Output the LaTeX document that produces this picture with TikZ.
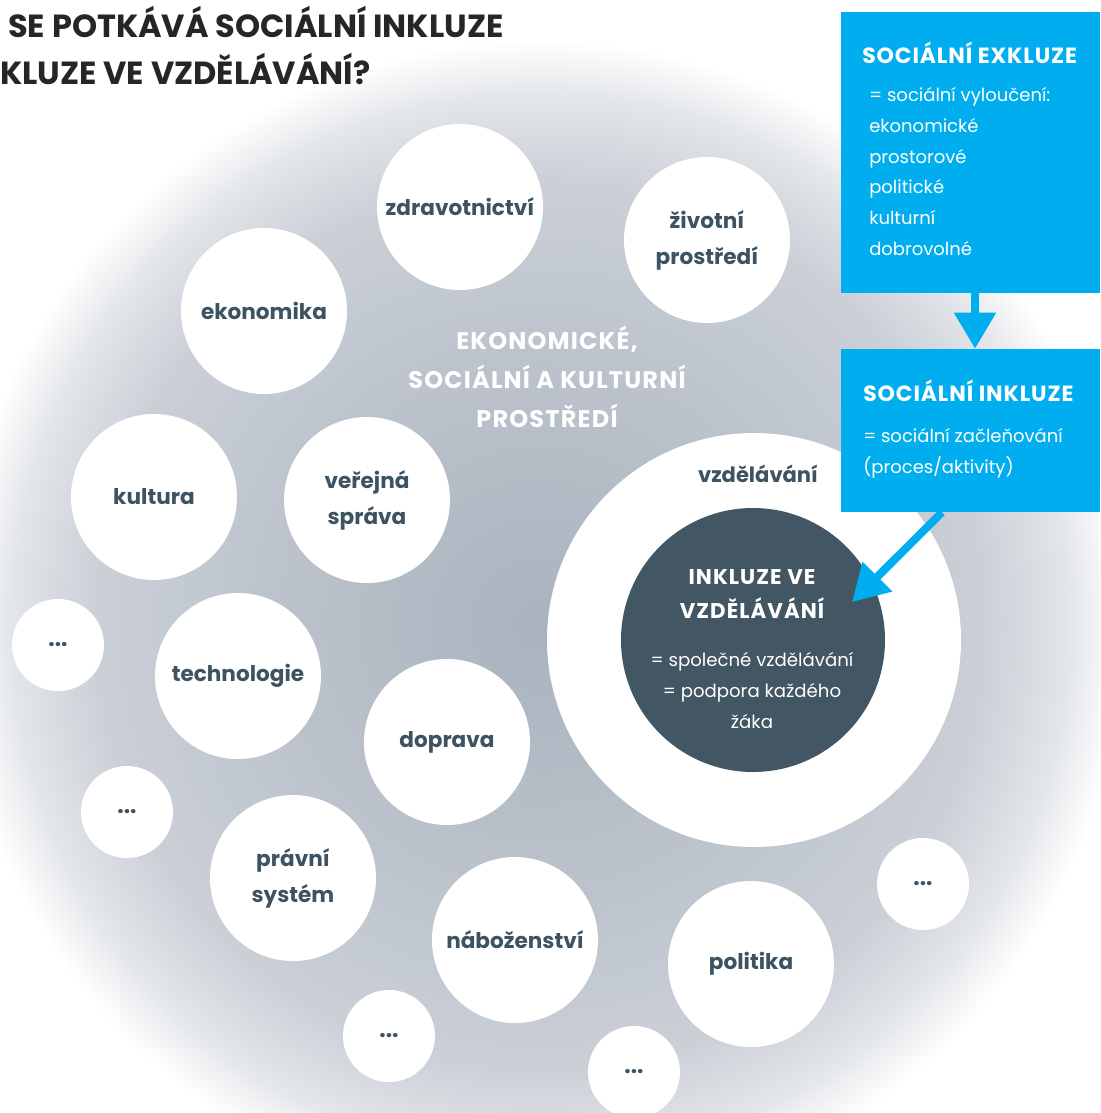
\documentclass[tikz,border=0pt]{standalone}
\usepackage{fontspec}
\setmainfont{Poppins}
\usetikzlibrary{arrows.meta}
\definecolor{txt}{HTML}{3E5361}
\definecolor{darkc}{HTML}{425664}
\definecolor{cyanb}{HTML}{00AEEF}
\definecolor{ttl}{HTML}{262626}
\definecolor{gA}{HTML}{A9B3BE}
\definecolor{gB}{HTML}{BBC2CB}
\definecolor{gC}{HTML}{CBD0D7}
\definecolor{gD}{HTML}{E2E5E9}
\pgfdeclareradialshading{bgshade}{\pgfpoint{0bp}{0bp}}{color(0bp)=(gA); color(11bp)=(gB); color(19bp)=(gC); color(22.5bp)=(gD); color(25bp)=(white); color(50bp)=(white)}
\tikzset{
  bub/.style={circle, fill=white, minimum size=124.5pt, inner sep=0pt, align=center, text=txt,
    font=\bfseries\fontsize{16.2}{27}\selectfont},
  smallbub/.style={circle, fill=white, minimum size=69pt, inner sep=0pt, text=txt,
    font=\bfseries\fontsize{17}{18}\selectfont},
  bluebox/.style={rectangle, fill=cyanb, inner sep=0pt},
  boxtitle/.style={anchor=west, inner sep=0pt, text=white, font=\bfseries\fontsize{16.5}{18}\selectfont\addfontfeature{LetterSpace=4}},
  boxbody/.style={anchor=west, inner sep=0pt, align=left, text=white, font=\fontsize{13.5}{23}\selectfont},
  arr/.style={cyanb, line width=6pt, -{Triangle[length=27pt,width=30pt]}},
}
\begin{document}
\begin{tikzpicture}[x=0.75pt,y=-0.75pt]
\useasboundingbox (0,0) rectangle (1100,1113);
\begin{scope}
\clip (0,0) rectangle (1100,1113);
\fill[white] (0,0) rectangle (1100,1113);
\shade[shading=bgshade] (540,625) circle [radius=585];
\end{scope}
% title
\node[anchor=west, inner sep=0pt, text=ttl, font=\bfseries\fontsize{24}{27}\selectfont] (t1) at (8,22) {SE POTKÁVÁ SOCIÁLNÍ INKLUZE};
\node[anchor=west, inner sep=0pt, text=ttl, font=\bfseries\fontsize{24}{27}\selectfont] (t2) at (0,69) {KLUZE VE VZDĚLÁVÁNÍ?};
% bubbles
\node[bub] (zdr) at (460,207) {zdravotnictví};
\node[bub] (ziv) at (707,240) {životní\\prostředí};
\node[bub] (eko) at (264,311) {ekonomika};
\node[bub] (kul) at (154,497) {kultura};
\node[bub] (ver) at (367,500) {veřejná\\správa};
\node[bub] (tec) at (238,676) {technologie};
\node[bub] (dop) at (447,742) {doprava};
\node[bub] (pra) at (293,878) {právní\\systém};
\node[bub] (nab) at (515,940) {náboženství};
\node[bub] (pol) at (751,964) {politika};
\node[smallbub] (d1) at (58,645) {...};
\node[smallbub] (d2) at (127,812) {...};
\node[smallbub] (d3) at (923,884) {...};
\node[smallbub] (d4) at (389,1036) {...};
\node[smallbub] (d5) at (634,1072) {...};
% center label
\node[align=center, text=white, font=\bfseries\fontsize{18}{29.25}\selectfont\addfontfeature{LetterSpace=5}] (env) at (547,377) {EKONOMICKÉ,\\SOCIÁLNÍ A KULTURNÍ\\PROSTŘEDÍ};
% education
\node[circle, fill=white, minimum size=310.5pt, inner sep=0pt] (vzd) at (754,640) {};
\node[text=txt, font=\bfseries\fontsize{15.8}{18}\selectfont, inner sep=0pt] (vzdl) at (758,474) {vzdělávání};
\node[circle, fill=darkc, minimum size=198pt, inner sep=0pt] (inc) at (753,640) {};
\node[align=center, text=white, font=\bfseries\fontsize{16}{25.5}\selectfont\addfontfeature{LetterSpace=5}, inner sep=0pt] (incT) at (752,594) {INKLUZE VE\\VZDĚLÁVÁNÍ};
\node[align=center, text=white, font=\fontsize{13.6}{23.25}\selectfont, inner sep=0pt] (incB) at (752,690) {= společné vzdělávání\\= podpora každého\\žáka};
% boxes
\node[bluebox, minimum width=194.25pt, minimum height=210.75pt] (box1) at (970.5,152.5) {};
\node[boxtitle] (b1t) at (862,53) {SOCIÁLNÍ EXKLUZE};
\node[boxbody] (b1b) at (869,171.5) {= sociální vyloučení:\\ekonomické\\prostorové\\politické\\kulturní\\dobrovolné};
\node[bluebox, minimum width=194.25pt, minimum height=122.25pt] (box2) at (970.5,430.5) {};
\node[boxtitle] (b2t) at (863,391) {SOCIÁLNÍ INKLUZE};
\node[boxbody] (b2b) at (863,453.5) {= sociální začleňování\\(proces/aktivity)};
% arrows
\coordinate (ax) at (975,300);
\coordinate (dx) at (942,500);
\coordinate (tip) at (852,602);
\draw[arr] (box1.south -| ax) -- (box2.north -| ax);
\draw[arr] (box2.south -| dx) -- (tip);
\end{tikzpicture}
\end{document}
